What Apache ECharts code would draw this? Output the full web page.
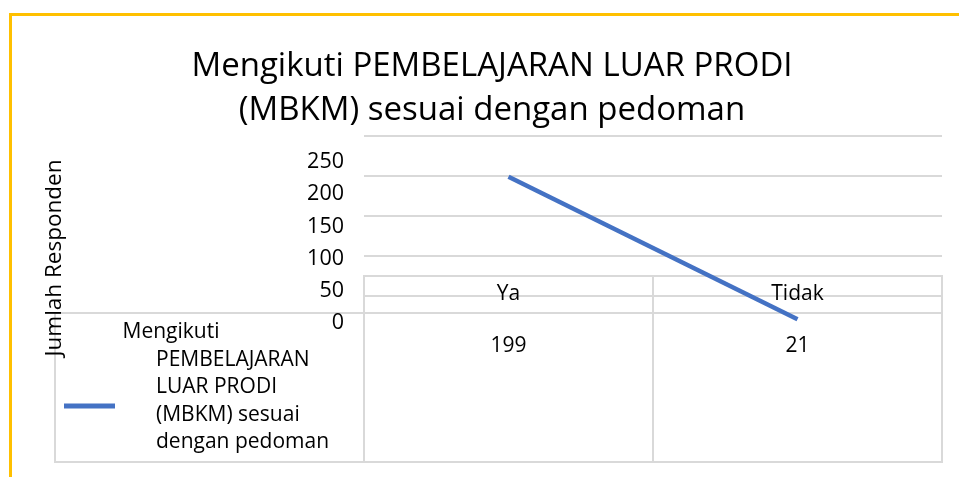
<!DOCTYPE html>
<html><head><meta charset="utf-8">
<script src="https://cdn.jsdelivr.net/npm/echarts@6/dist/echarts.min.js"></script>
<style>
html,body{margin:0;padding:0;background:#fff;}
#wrap{position:relative;width:959px;height:477px;overflow:hidden;}
#c{width:959px;height:477px;}
#frame{position:absolute;left:9px;top:12.5px;right:-20px;bottom:-20px;border-top:3.5px solid #FFC000;border-left:3px solid #FFC000;pointer-events:none;}
</style></head><body>
<div id="wrap"><div id="c"></div><div id="frame"></div></div>
<script>
const titleText = 'Mengikuti PEMBELAJARAN LUAR PRODI\n(MBKM) sesuai dengan pedoman';
const categories = ['Ya', 'Tidak'];
const seriesName = 'Mengikuti PEMBELAJARAN LUAR PRODI (MBKM) sesuai dengan pedoman';
const legendLines = ['Mengikuti', 'PEMBELAJARAN', 'LUAR PRODI', '(MBKM) sesuai', 'dengan pedoman'];
const values = [199, 21];
const yAxisName = 'Jumlah Responden';
const yMin = 0, yMax = 250, yStep = 50;

const FONT = 'Open Sans';
const GRID_C = '#d9d9d9';
const LINE_C = '#4472C4';

const chart = echarts.init(document.getElementById('c'), null, {renderer: 'canvas'});

const tickCount = (yMax - yMin) / yStep + 1;
const splitColors = [];
for (let i = 0; i < tickCount; i++) splitColors.push(i === 0 ? 'rgba(0,0,0,0)' : GRID_C);

const legendText = legendLines.map((s, i) => (i === 0 ? '{a|' : '{b|') + s + '}').join('\n');

const option = {
  backgroundColor: '#fff',
  animation: false,
  title: {
    text: titleText,
    left: 487,
    textAlign: 'center',
    top: 40,
    textStyle: {fontFamily: FONT, fontSize: 33, fontWeight: 'normal', color: '#000', lineHeight: 44}
  },
  legend: {
    data: [seriesName],
    orient: 'vertical',
    left: 64,
    top: 322,
    padding: 0,
    icon: 'rect',
    itemWidth: 51,
    itemHeight: 5,
    formatter: () => legendText,
    textStyle: {
      padding: [0, 0, 37, 0],
      rich: {
        a: {fontFamily: FONT, fontSize: 21, lineHeight: 27.5, color: '#000', padding: [0, 0, 0, 2.5]},
        b: {fontFamily: FONT, fontSize: 21, lineHeight: 27.5, color: '#000', padding: [0, 0, 0, 36]}
      }
    }
  },
  grid: [
    {left: 364, right: 17, top: 136, height: 200},
    {left: 364, right: 17, top: 276, height: 37, show: true, borderColor: GRID_C, borderWidth: 2},
    {left: 364, right: 17, top: 313, height: 149, show: true, borderColor: GRID_C, borderWidth: 2},
    {left: 55, width: 309, top: 313, height: 149, show: true, borderColor: GRID_C, borderWidth: 2},
    {left: 352, width: 10, top: 162, height: 161},
    {left: 80, width: 10, top: 158, height: 200}
  ],
  xAxis: [
    {gridIndex: 0, type: 'category', data: categories, boundaryGap: true, show: false},
    {gridIndex: 1, type: 'category', data: categories, boundaryGap: true, position: 'top',
      axisLine: {show: false}, axisTick: {show: false},
      axisLabel: {inside: true, margin: 7.5, fontFamily: FONT, fontSize: 21, color: '#000'},
      splitLine: {show: true, lineStyle: {color: GRID_C, width: 2}}},
    {gridIndex: 2, type: 'category', data: categories, boundaryGap: true, position: 'top',
      axisLine: {show: false}, axisTick: {show: false},
      axisLabel: {inside: true, margin: 22.5, fontFamily: FONT, fontSize: 21, color: '#000',
        formatter: (v, i) => String(values[i])},
      splitLine: {show: true, lineStyle: {color: GRID_C, width: 2}}},
    {gridIndex: 3, type: 'value', show: false},
    {gridIndex: 4, type: 'value', show: false},
    {gridIndex: 5, type: 'value', show: false}
  ],
  yAxis: [
    {gridIndex: 0, type: 'value', min: yMin, max: yMax, interval: yStep,
      axisLine: {show: false}, axisTick: {show: false}, axisLabel: {show: false},
      splitLine: {show: true, lineStyle: {color: splitColors, width: 2}}},
    {gridIndex: 1, type: 'value', show: false},
    {gridIndex: 2, type: 'value', show: false},
    {gridIndex: 3, type: 'value', show: false},
    {gridIndex: 4, type: 'value', min: yMin, max: yMax, interval: yStep,
      axisLine: {show: false}, axisTick: {show: false}, splitLine: {show: false},
      axisLabel: {margin: 8, fontFamily: FONT, fontSize: 21.5, color: '#000'}},
    {gridIndex: 5, type: 'value', name: yAxisName, nameLocation: 'middle', nameGap: 14, nameRotate: 90,
      nameTextStyle: {fontFamily: FONT, fontSize: 22.5, color: '#000'},
      axisLine: {show: false}, axisTick: {show: false}, splitLine: {show: false}, axisLabel: {show: false}}
  ],
  series: [{
    name: seriesName,
    type: 'line',
    xAxisIndex: 0,
    yAxisIndex: 0,
    data: values,
    symbol: 'none',
    z: 10,
    itemStyle: {color: LINE_C},
    lineStyle: {color: LINE_C, width: 4.5, cap: 'butt'}
  }]
};
chart.setOption(option);
</script>
</body></html>
